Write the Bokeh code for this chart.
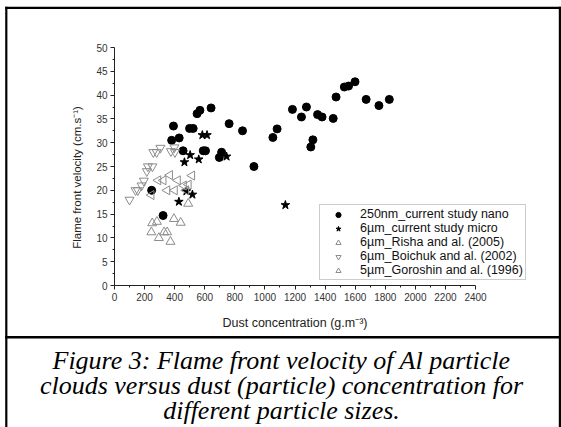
import math
from bokeh.plotting import figure
from bokeh.models import (Range1d, Legend, LegendItem, Label, BoxAnnotation,
                          FixedTicker, LinearAxis)
from bokeh.embed import file_html
from bokeh.resources import INLINE

# ---------------- data ----------------
nano_x = [247, 323, 380, 392, 430, 456, 499, 523, 549, 568, 590, 605, 642, 697, 712, 762,
          851, 927, 1053, 1081, 1183, 1243, 1276, 1305, 1319, 1350, 1380, 1454, 1473,
          1528, 1556, 1599, 1673, 1758, 1827]
nano_y = [20.0, 14.7, 30.5, 33.5, 31.0, 28.3, 33.0, 33.0, 36.1, 36.8, 28.3, 28.3, 37.3,
          26.9, 28.0, 34.0, 32.5, 25.0, 31.1, 32.9, 37.0, 35.4, 37.5, 29.1, 30.6, 35.9,
          35.4, 35.1, 39.6, 41.7, 41.9, 42.8, 39.1, 37.8, 39.1]

micro_x = [428, 465, 478, 503, 518, 560, 584, 615, 745, 1136]
micro_y = [17.6, 25.9, 19.8, 27.4, 19.1, 26.5, 31.6, 31.6, 27.1, 16.9]

risha_x = [245, 251, 282, 295, 330, 350, 372, 395, 440, 490]
risha_y = [11.2, 13.1, 13.4, 10.0, 11.2, 11.2, 9.2, 14.0, 13.2, 17.2]

boichuk_x = [100, 140, 155, 180, 195, 215, 222, 252, 258, 280, 305, 375, 398, 402]
boichuk_y = [18.0, 20.0, 20.0, 21.0, 22.0, 24.0, 25.0, 25.0, 28.0, 28.0, 28.9, 28.2,
             29.0, 28.0]

goroshin_x = [245, 290, 325, 350, 368, 400, 420, 460, 475, 492, 515]
goroshin_y = [19.0, 22.1, 22.1, 20.0, 23.2, 20.0, 22.1, 21.0, 20.0, 21.2, 23.1]

series_labels = ["250nm_current study nano", "6\u00b5m_current study micro",
                 "6\u00b5m_Risha and al. (2005)", "6\u00b5m_Boichuk and al. (2002)",
                 "5\u00b5m_Goroshin and al. (1996)"]

x_ticks = [0, 200, 400, 600, 800, 1000, 1200, 1400, 1600, 1800, 2000, 2200, 2400]
x_minor = [100, 300, 500, 700, 900, 1100, 1300, 1500, 1700, 1900, 2100, 2300]
y_ticks = [0, 5, 10, 15, 20, 25, 30, 35, 40, 45, 50]
y_minor = [2.5, 7.5, 12.5, 17.5, 22.5, 27.5, 32.5, 37.5, 42.5, 47.5]

x_title = "Dust concentration (g.m\u207b\u00b3)"
y_title = "Flame front velocity (cm.s\u207b\u00b9)"
caption = ["Figure 3: Flame front velocity of Al particle",
           "clouds versus dust (particle) concentration for",
           "different particle sizes."]

# ---------------- layout ----------------
W, H = 561, 427
FL, FR, FT, FB = 114, 475, 47, 285          # plot area in page pixels
X0, X1, Y0, Y1 = 0, 2400, 0, 50
kx = (X1 - X0) / (FR - FL)                  # data units per pixel
ky = (Y1 - Y0) / (FB - FT)


def dx(px):
    return X0 + (px - FL) * kx


def dy(py):
    return Y0 + (FB - py) * ky


p = figure(width=W, height=H, output_backend="svg", toolbar_location=None,
           x_range=Range1d(dx(0), dx(W)), y_range=Range1d(dy(H), dy(0)),
           x_axis_location=None, y_axis_location=None,
           min_border=0, min_border_left=0, min_border_right=0,
           min_border_top=0, min_border_bottom=0)
p.grid.visible = False
p.outline_line_color = None
p.background_fill_color = "white"
p.border_fill_color = "white"

AX = "#222222"
xaxis = LinearAxis(fixed_location=Y0, bounds=(X0, X1),
                   ticker=FixedTicker(ticks=x_ticks, minor_ticks=x_minor),
                   axis_label=x_title)
yaxis = LinearAxis(fixed_location=X0, bounds=(Y0, Y1),
                   ticker=FixedTicker(ticks=y_ticks, minor_ticks=y_minor))
for ax in (xaxis, yaxis):
    ax.axis_line_color = AX
    ax.major_tick_line_color = AX
    ax.minor_tick_line_color = AX
    ax.major_tick_in = 0
    ax.major_tick_out = 4
    ax.minor_tick_in = 0
    ax.minor_tick_out = 2
    ax.major_label_text_font = "Liberation Sans"
    ax.major_label_text_font_size = "10px"
    ax.major_label_text_color = "#333333"
    ax.axis_label_text_font = "Liberation Sans"
    ax.axis_label_text_font_size = "12.5px"
    ax.axis_label_text_font_style = "normal"
    ax.axis_label_text_color = "#222222"
    ax.major_label_standoff = 3
    ax.axis_label_standoff = 12
p.add_layout(xaxis, "below")
p.add_layout(yaxis, "left")

# y-axis title, placed where the reference has it
p.add_layout(Label(x=dx(76), y=dy(177), text=y_title, angle=math.pi / 2,
                   text_font="Liberation Sans", text_font_size="11.5px",
                   text_color="#222222", text_align="center", text_baseline="middle"))

GRAY = "#8c8c8c"
r_nano = p.scatter(nano_x, nano_y, marker="circle", size=8, fill_color="black",
                   line_color="black")
r_micro = p.scatter(micro_x, micro_y, marker="star", size=9, fill_color="black",
                    line_color="black")
r_risha = p.scatter(risha_x, risha_y, marker="triangle", size=9, fill_color=None,
                    line_color=GRAY, line_width=1)
r_boi = p.scatter(boichuk_x, boichuk_y, marker="inverted_triangle", size=9,
                  fill_color=None, line_color=GRAY, line_width=1)
r_gor = p.scatter(goroshin_x, goroshin_y, marker="triangle", angle=math.pi / 2, size=9,
                  fill_color=None, line_color=GRAY, line_width=1)

items = [LegendItem(label=l, renderers=[r]) for l, r in
         zip(series_labels, [r_nano, r_micro, r_risha, r_boi, r_gor])]
legend = Legend(items=items, location=(319, H - 280),
                label_text_font="Liberation Sans", label_text_font_size="12.5px",
                label_text_color="#111111", label_height=13, label_standoff=6,
                glyph_width=32, glyph_height=13, spacing=0, padding=2, margin=0,
                border_line_color="#999999", border_line_width=1,
                background_fill_color="white", background_fill_alpha=1)
p.add_layout(legend)


# ---------------- frame lines of the figure box ----------------
def bar(y_top_px, y_bot_px, x_l_px, x_r_px):
    p.add_layout(BoxAnnotation(left=dx(x_l_px), right=dx(x_r_px), top=dy(y_top_px),
                               bottom=dy(y_bot_px), fill_color="black", fill_alpha=1,
                               line_color=None, level="overlay"))


bar(6.3, 8.5, 4.7, 560.5)      # top border
bar(6.3, 428, 4.7, 6.9)        # left border
bar(6.3, 428, 558.3, 560.5)    # right border
bar(335.5, 338, 4.7, 560.5)    # divider above caption

# ---------------- caption ----------------
for i, line in enumerate(caption):
    p.add_layout(Label(x=dx(281), y=dy(360 + 25 * i), text=line,
                       text_font="Liberation Serif", text_font_style="italic",
                       text_font_size="26px", text_color="black",
                       text_align="center", text_baseline="alphabetic"))

html = file_html(p, INLINE)
html = html.replace("</head>",
                    "<style>html,body{margin:0;padding:0;overflow:hidden}</style></head>", 1)
open("out.html", "w").write(html)
